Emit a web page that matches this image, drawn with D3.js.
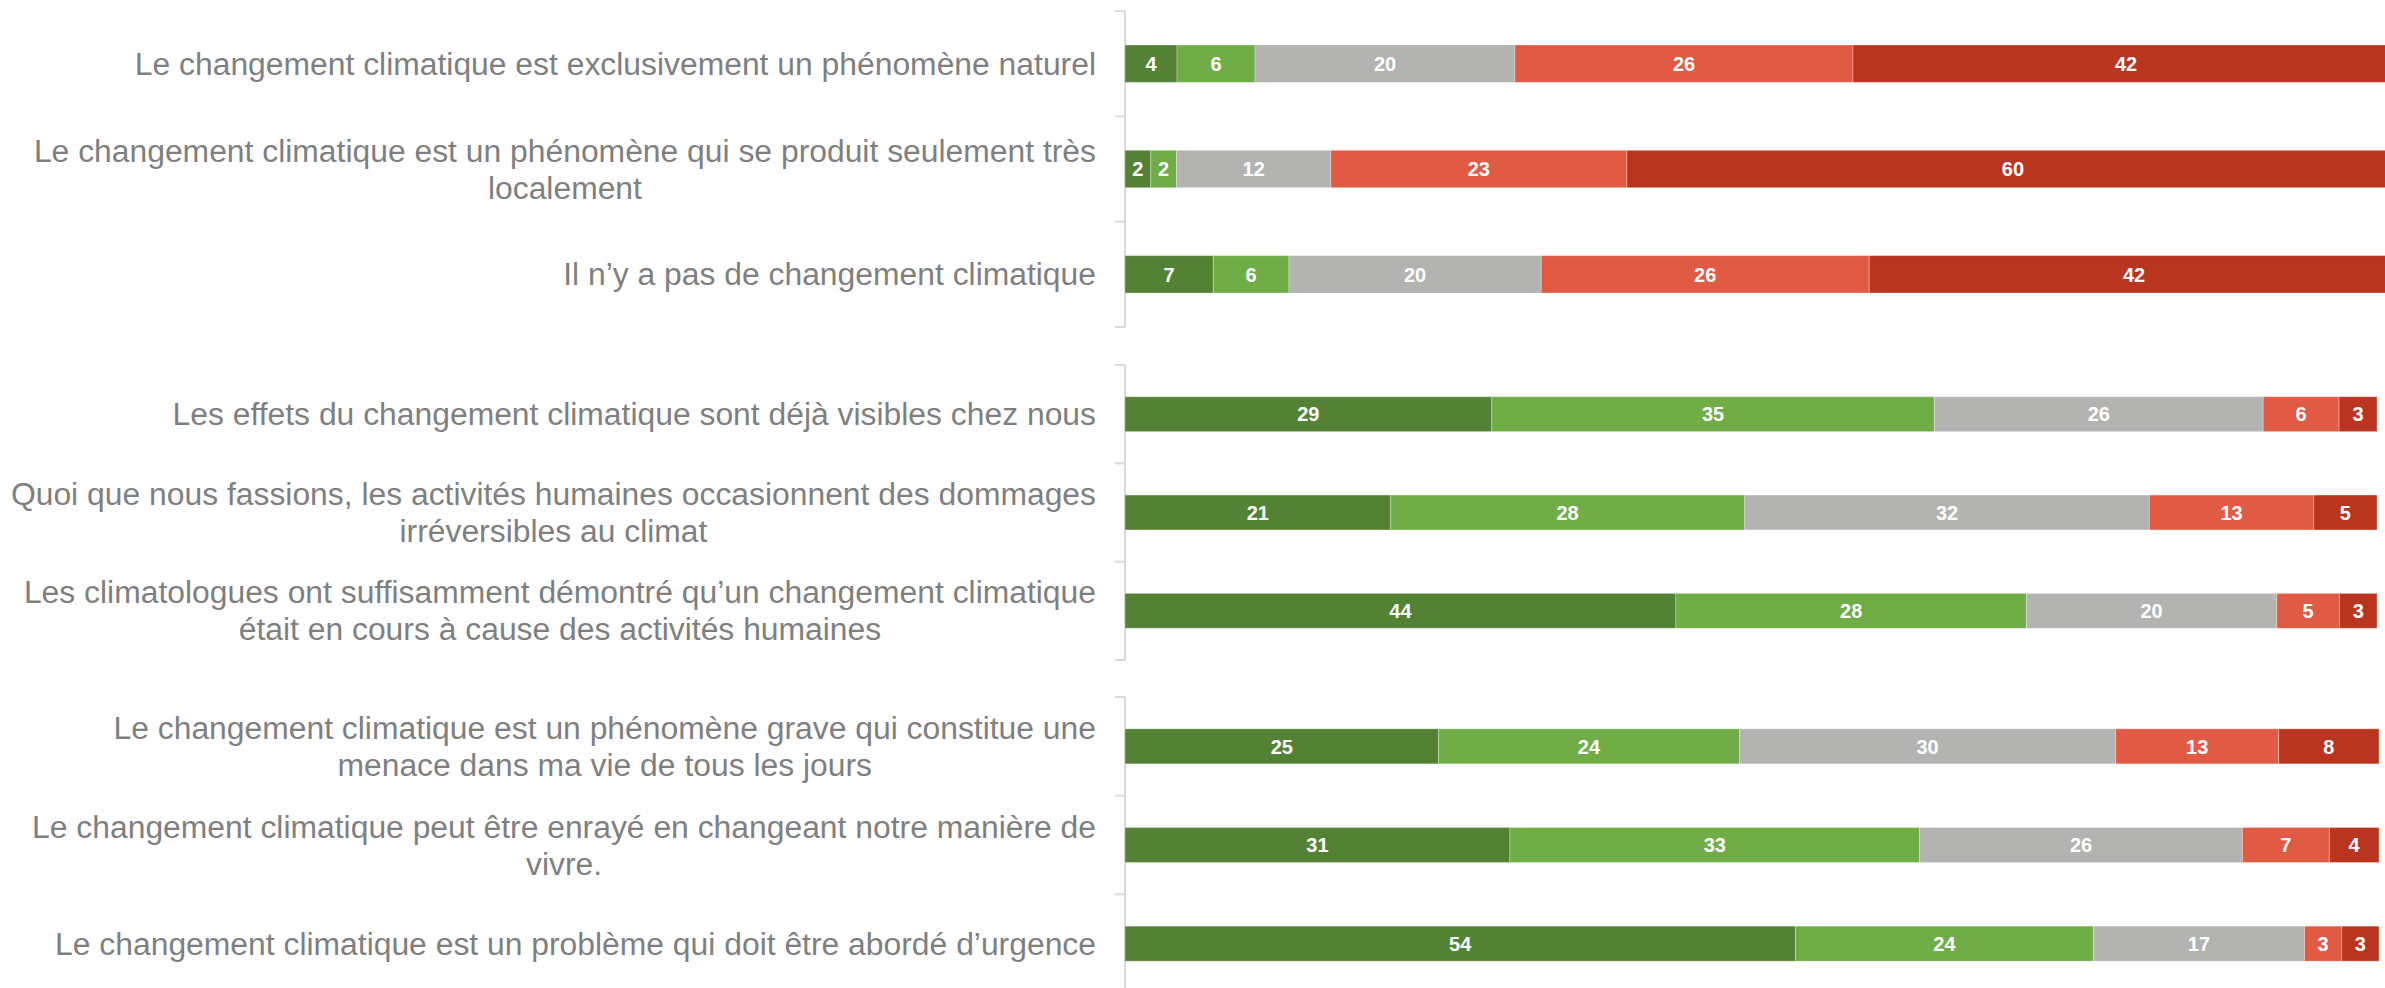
<!DOCTYPE html>
<html>
<head>
<meta charset="utf-8">
<script src="https://cdn.jsdelivr.net/npm/d3@7"></script>
<style>
  html, body { margin: 0; padding: 0; background: #fff; }
  svg { display: block; }
</style>
</head>
<body>
<svg id="chart" width="2385" height="988"></svg>
<script>
// ---------- DATA ----------
const categories = [
  "Le changement climatique est exclusivement un phénomène naturel",
  "Le changement climatique est un phénomène qui se produit seulement très\nlocalement",
  "Il n’y a pas de changement climatique",
  "Les effets du changement climatique sont déjà visibles chez nous",
  "Quoi que nous fassions, les activités humaines occasionnent des dommages\nirréversibles au climat",
  "Les climatologues ont suffisamment démontré qu’un changement climatique\nétait en cours à cause des activités humaines",
  "Le changement climatique est un phénomène grave qui constitue une\nmenace dans ma vie de tous les jours",
  "Le changement climatique peut être enrayé en changeant notre manière de\nvivre.",
  "Le changement climatique est un problème qui doit être abordé d’urgence"
];
const panelOfCategory = [0, 0, 0, 1, 1, 1, 2, 2, 2];

const seriesNames = ["Tout à fait d’accord", "Plutôt d’accord", "Neutre", "Plutôt pas d’accord", "Pas du tout d’accord"];
const toutAFait   = [4, 2, 7, 29, 21, 44, 25, 31, 54];
const plutot      = [6, 2, 6, 35, 28, 28, 24, 33, 24];
const neutre      = [20, 12, 20, 26, 32, 20, 30, 26, 17];
const plutotPas   = [26, 23, 26, 6, 13, 5, 13, 7, 3];
const pasDuTout   = [42, 60, 42, 3, 5, 3, 8, 4, 3];
const seriesColors = ["#548235", "#70AD47", "#B3B3B1", "#E05A44", "#BA3520"];

// ---------- LAYOUT ----------
const panels = [
  { x: [1125, 2399], y: [11, 327] },
  { x: [1125, 2377], y: [365, 660] },
  { x: [1125, 2379], y: [697, 993] }
];
const labelRight = 1096;
const lineGap = 37;
const pad = 0.645;

const svg = d3.select("#chart");

const rows = categories.map((c, i) => {
  const r = { cat: c, panel: panelOfCategory[i] };
  r[seriesNames[0]] = toutAFait[i];
  r[seriesNames[1]] = plutot[i];
  r[seriesNames[2]] = neutre[i];
  r[seriesNames[3]] = plutotPas[i];
  r[seriesNames[4]] = pasDuTout[i];
  return r;
});

const color = d3.scaleOrdinal().domain(seriesNames).range(seriesColors);

panels.forEach((p, pi) => {
  const data = rows.filter(r => r.panel === pi);
  const y = d3.scaleBand()
    .domain(data.map(d => d.cat))
    .range(p.y)
    .paddingInner(pad)
    .paddingOuter(pad / 2);
  const x = d3.scaleLinear().domain([0, 1]).range(p.x);

  const stacked = d3.stack()
    .keys(seriesNames)
    .offset(d3.stackOffsetExpand)(data);

  const g = svg.append("g");

  // axis line + ticks at band boundaries
  const step = y.step();
  const bounds = d3.range(data.length + 1).map(i => p.y[0] + i * step);
  g.append("line")
    .attr("x1", p.x[0]).attr("x2", p.x[0])
    .attr("y1", p.y[0]).attr("y2", p.y[1])
    .attr("stroke", "#D9D9D9").attr("stroke-width", 2);
  g.selectAll("line.tick").data(bounds).join("line")
    .attr("class", "tick")
    .attr("x1", p.x[0] - 10).attr("x2", p.x[0])
    .attr("y1", d => d).attr("y2", d => d)
    .attr("stroke", "#D9D9D9").attr("stroke-width", 2);

  // bars
  const layer = g.selectAll("g.layer").data(stacked).join("g")
    .attr("class", "layer")
    .attr("fill", d => color(d.key));
  layer.selectAll("rect").data(d => d.map(v => ({ v, key: d.key }))).join("rect")
    .attr("x", d => x(d.v[0]))
    .attr("y", d => y(d.v.data.cat))
    .attr("width", d => x(d.v[1]) - x(d.v[0]))
    .attr("height", y.bandwidth())
    .attr("stroke", "rgba(255,255,255,0.3)")
    .attr("stroke-width", 1);

  // value labels
  layer.selectAll("text").data(d => d.map(v => ({ v, key: d.key }))).join("text")
    .attr("x", d => (x(d.v[0]) + x(d.v[1])) / 2)
    .attr("y", d => y(d.v.data.cat) + y.bandwidth() / 2)
    .attr("dy", "0.36em")
    .attr("text-anchor", "middle")
    .attr("fill", "#FFFFFF")
    .attr("font-family", "'Liberation Sans', Arial, sans-serif")
    .attr("font-weight", "bold")
    .attr("font-size", 20)
    .text(d => d.v.data[d.key]);

  // category labels
  data.forEach(d => {
    const lines = d.cat.split("\n");
    const cy = y(d.cat) + y.bandwidth() / 2;
    const t = g.append("text")
      .attr("font-family", "'Liberation Sans', Arial, sans-serif")
      .attr("font-size", 31.85)
      .attr("fill", "#7F7F7F")
      .attr("text-anchor", "middle");
    const spans = lines.map((ln, li) => t.append("tspan")
      .attr("y", cy + (li - (lines.length - 1) / 2) * lineGap)
      .attr("dy", "0.35em")
      .text(ln));
    const maxW = d3.max(spans, s => s.node().getComputedTextLength());
    spans.forEach(s => s.attr("x", labelRight - maxW / 2));
  });
});
</script>
</body>
</html>
